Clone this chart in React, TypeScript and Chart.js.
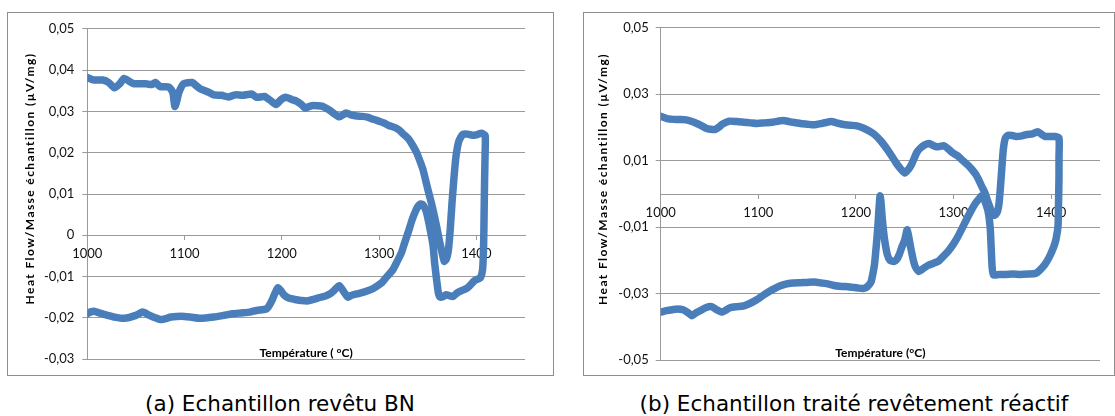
import React, { useEffect, useRef } from "react";
import { Chart, registerables } from "chart.js";

Chart.register(...registerables);

// ---------- DATA ----------
// (a) Echantillon revêtu BN — heating branch (top), then cooling branch (bottom)
const tempA_heat = [1000, 1007, 1016, 1022, 1028, 1033, 1038, 1043, 1048, 1060, 1066, 1070, 1075, 1084, 1088, 1090, 1092, 1094, 1099, 1108, 1112, 1116, 1121, 1126, 1130, 1138, 1145, 1152, 1160, 1169, 1174, 1182, 1188, 1194, 1199, 1204, 1210, 1215, 1220, 1224, 1229, 1233, 1240, 1244, 1249, 1253, 1259, 1266, 1272, 1277, 1283, 1288, 1294, 1299, 1305, 1310, 1317, 1321, 1325, 1330, 1334, 1338, 1341, 1345, 1348.5, 1351, 1354, 1357, 1359.5, 1362, 1365, 1367, 1369, 1371, 1373, 1375, 1377, 1379, 1382, 1386, 1391, 1396, 1401, 1405, 1409];
const flowA_heat = [0.0382, 0.0376, 0.0376, 0.037, 0.0357, 0.0366, 0.038, 0.0373, 0.0367, 0.0367, 0.0365, 0.037, 0.036, 0.0359, 0.0345, 0.0312, 0.0325, 0.0345, 0.0367, 0.037, 0.0362, 0.0355, 0.035, 0.0345, 0.034, 0.0339, 0.0335, 0.034, 0.0339, 0.0342, 0.0334, 0.0336, 0.0327, 0.0317, 0.0328, 0.0334, 0.0329, 0.0325, 0.0317, 0.0308, 0.0313, 0.0314, 0.0313, 0.031, 0.0303, 0.0296, 0.0287, 0.0296, 0.0291, 0.0289, 0.0288, 0.0286, 0.0281, 0.0277, 0.0272, 0.0266, 0.026, 0.0254, 0.0245, 0.0234, 0.022, 0.0203, 0.0186, 0.016, 0.0127, 0.0103, 0.0076, 0.0045, 0.0017, -0.0013, -0.0045, -0.0063, -0.0058, -0.004, 0.001, 0.008, 0.014, 0.019, 0.0228, 0.0244, 0.0245, 0.0242, 0.0244, 0.0247, 0.0242];
const tempA_cool = [1409, 1408.5, 1408, 1407.5, 1406.5, 1404, 1398, 1391, 1384, 1380, 1376, 1372, 1369, 1366, 1363, 1361, 1359, 1357, 1355.5, 1352, 1348.5, 1345, 1343, 1340, 1337.5, 1334, 1330, 1326, 1323, 1318, 1314, 1308, 1303, 1297, 1292, 1285, 1277, 1271, 1268, 1264, 1259, 1254, 1249.5, 1245, 1240, 1233, 1226, 1220, 1215, 1207, 1202, 1199, 1196, 1193, 1190, 1186, 1183.5, 1174, 1167, 1158, 1149, 1140, 1130, 1116, 1106, 1097, 1086, 1080, 1075, 1069, 1064, 1057, 1050, 1038, 1028, 1020, 1012, 1007, 1003, 1000];
const flowA_cool = [0.02, 0.014, 0.006, -0.002, -0.008, -0.0103, -0.011, -0.0127, -0.0135, -0.014, -0.0148, -0.0146, -0.0144, -0.0148, -0.015, -0.014, -0.0105, -0.0065, -0.0025, 0.002, 0.0058, 0.0074, 0.0076, 0.007, 0.0059, 0.0038, 0.0008, -0.002, -0.0042, -0.0066, -0.0084, -0.01, -0.0114, -0.0124, -0.0131, -0.0137, -0.0142, -0.0146, -0.015, -0.0138, -0.0122, -0.0133, -0.0142, -0.0147, -0.015, -0.0155, -0.0159, -0.0158, -0.0156, -0.0152, -0.0144, -0.0134, -0.0127, -0.014, -0.0157, -0.0174, -0.0179, -0.0182, -0.0186, -0.0188, -0.019, -0.0194, -0.0198, -0.0201, -0.0198, -0.0196, -0.0198, -0.0202, -0.0204, -0.0199, -0.0194, -0.0186, -0.0194, -0.0201, -0.0198, -0.0193, -0.0188, -0.0184, -0.0186, -0.019];

// (b) Echantillon traité revêtement réactif
const tempB_heat = [1000, 1008, 1018, 1026, 1032, 1037, 1042, 1046.5, 1051, 1055.5, 1060, 1063, 1070, 1078, 1085, 1092, 1099, 1106, 1114, 1120, 1125, 1133, 1143, 1150, 1157, 1166, 1175, 1180, 1186, 1194, 1201, 1208, 1214, 1219, 1226, 1234, 1241, 1246, 1250, 1254, 1257, 1262.5, 1266, 1270, 1275, 1279, 1283, 1290, 1294, 1299, 1305, 1310, 1315, 1319, 1323, 1326, 1329, 1332, 1335, 1337, 1339, 1341, 1343, 1345, 1346.5, 1348, 1349.5, 1351, 1353, 1356, 1360, 1364, 1370, 1375, 1381, 1386, 1390, 1394, 1400, 1404, 1408];
const flowB_heat = [0.0234, 0.0226, 0.0224, 0.0223, 0.0218, 0.0212, 0.0205, 0.0198, 0.0195, 0.0194, 0.0202, 0.021, 0.0219, 0.0218, 0.0216, 0.0214, 0.0212, 0.0214, 0.0216, 0.0219, 0.0221, 0.0217, 0.0212, 0.021, 0.0208, 0.0213, 0.0218, 0.0214, 0.021, 0.0207, 0.0205, 0.0198, 0.0189, 0.0179, 0.0158, 0.0126, 0.0094, 0.0075, 0.0063, 0.0075, 0.0089, 0.0126, 0.0138, 0.0147, 0.0152, 0.0146, 0.0142, 0.0145, 0.0137, 0.0124, 0.0113, 0.0099, 0.0086, 0.0073, 0.0058, 0.0041, 0.0022, 0.0004, -0.0022, -0.0038, -0.0055, -0.0064, -0.0062, -0.0052, -0.003, 0.002, 0.008, 0.0135, 0.0168, 0.0177, 0.0176, 0.0173, 0.0175, 0.0179, 0.0181, 0.0187, 0.018, 0.0173, 0.0173, 0.0173, 0.0168];
const tempB_cool = [1408, 1408, 1407.5, 1407, 1405, 1402.5, 1398, 1393.5, 1388, 1384, 1376, 1368, 1361, 1353.5, 1346, 1341, 1339.5, 1338.5, 1337.5, 1335.5, 1332.5, 1329.5, 1326, 1322.6, 1318, 1313.5, 1309, 1304.5, 1300, 1295, 1290, 1284.5, 1279, 1273.6, 1269, 1264.5, 1261, 1259, 1256, 1252.5, 1250, 1247, 1244.5, 1241.5, 1239, 1235, 1232, 1229, 1227, 1225.5, 1224.7, 1223.5, 1222.5, 1221, 1219, 1217, 1215.4, 1212, 1208, 1202, 1197, 1192, 1186, 1179, 1172, 1165, 1157, 1150, 1143, 1135, 1128, 1122, 1117, 1112, 1106.4, 1101, 1095.5, 1090, 1084.6, 1077, 1071, 1066.5, 1063, 1058, 1052, 1046, 1041, 1036, 1032, 1028, 1023, 1017, 1012, 1006, 1001];
const flowB_cool = [0.011, 0.0052, -0.003, -0.0096, -0.0135, -0.016, -0.019, -0.0212, -0.023, -0.0239, -0.0241, -0.0242, -0.0241, -0.0242, -0.0242, -0.0244, -0.022, -0.016, -0.01, -0.0054, -0.0025, -0.0004, -0.0015, -0.0027, -0.005, -0.0075, -0.0102, -0.0128, -0.015, -0.017, -0.0186, -0.0202, -0.0209, -0.0215, -0.0224, -0.0233, -0.022, -0.0202, -0.016, -0.0108, -0.0138, -0.016, -0.0181, -0.0198, -0.0203, -0.02, -0.0181, -0.013, -0.0075, -0.002, -0.0006, -0.005, -0.0096, -0.015, -0.0212, -0.0245, -0.0265, -0.0278, -0.0284, -0.0283, -0.0281, -0.0279, -0.0278, -0.0276, -0.0271, -0.0268, -0.0265, -0.0266, -0.0267, -0.0268, -0.0271, -0.0277, -0.0284, -0.0292, -0.0302, -0.0313, -0.0323, -0.0331, -0.0337, -0.0339, -0.0342, -0.035, -0.0355, -0.0349, -0.0339, -0.0342, -0.035, -0.0358, -0.0366, -0.0357, -0.0348, -0.0346, -0.0348, -0.0351, -0.0355];

// Tick values
const xTicks = [1000, 1100, 1200, 1300, 1400];
const yTicksA = [-0.03, -0.02, -0.01, 0, 0.01, 0.02, 0.03, 0.04, 0.05];
const yTicksB = [-0.05, -0.03, -0.01, 0.01, 0.03, 0.05];

const xTitleA = "Température ( °C)";
const xTitleB = "Température (°C)";
const yTitle = "Heat Flow/Masse échantillon (µV/mg)";
const captionA = "(a) Echantillon revêtu BN";
const captionB = "(b) Echantillon traité revêtement réactif";

// ---------- STYLE ----------
const BLUE = "#4a7ebb";
const GRID = "#9a9a9a";
const FONT = "Lato, 'Liberation Sans', sans-serif";

const fmtY = (v: number) => {
  const r = Math.round(v * 100) / 100;
  return r === 0 ? "0" : r.toFixed(2).replace(".", ",");
};

type Cfg = {
  heatT: number[]; heatF: number[]; coolT: number[]; coolF: number[];
  yMin: number; yMax: number; yTicks: number[];
  xTitle: string;
  width: number; height: number;
  padTop: number; padRight: number; yWidth: number; xHeight: number;
  yPad: number;
  xTitleY: number; yTitleX: number; yTitleY: number;
};

function Panel({ cfg }: { cfg: Cfg }) {
  const ref = useRef<HTMLCanvasElement | null>(null);
  useEffect(() => {
    if (!ref.current) return;
    const pts = [
      ...cfg.heatT.map((t, i) => ({ x: t, y: cfg.heatF[i] })),
      ...cfg.coolT.map((t, i) => ({ x: t, y: cfg.coolF[i] })),
    ];
    const titles = {
      id: "titles",
      afterDraw(chart: any) {
        const ctx = chart.ctx;
        const ca = chart.chartArea;
        ctx.save();
        ctx.fillStyle = "#000";
        ctx.font = `bold 12px ${FONT}`;
        ctx.textAlign = "center";
        ctx.textBaseline = "middle";
        ctx.fillText(cfg.xTitle, (ca.left + ca.right) / 2, cfg.xTitleY);
        ctx.translate(cfg.yTitleX, cfg.yTitleY);
        ctx.rotate(-Math.PI / 2);
        try { (ctx as any).letterSpacing = "1.4px"; } catch (e) {}
        ctx.fillText(yTitle, 0, 0);
        ctx.restore();
      },
    };
    const chart = new Chart(ref.current, {
      type: "scatter",
      data: {
        datasets: [
          {
            data: pts,
            showLine: true,
            borderColor: BLUE,
            backgroundColor: BLUE,
            borderWidth: 7.5,
            pointRadius: 0,
            tension: 0.2,
            borderJoinStyle: "round",
            borderCapStyle: "round",
          } as any,
        ],
      },
      options: {
        animation: false,
        responsive: false,
        events: [],
        layout: { padding: { top: cfg.padTop, right: cfg.padRight, left: 0, bottom: 0 } },
        plugins: { legend: { display: false }, tooltip: { enabled: false }, title: { display: false } },
        scales: {
          x: {
            type: "linear",
            position: { y: 0 } as any,
            min: 1000,
            max: 1450,
            afterBuildTicks: (s: any) => { s.ticks = xTicks.map((v) => ({ value: v })); },
            afterFit: (s: any) => { s.height = cfg.xHeight; },
            grid: { display: true, drawOnChartArea: false, drawTicks: true, tickLength: 4, color: GRID },
            border: { display: true, color: GRID, width: 1 },
            ticks: { padding: 7, color: "#111", font: { family: FONT, size: 13 }, maxRotation: 0, autoSkip: false, callback: (v: any) => String(v) },
          },
          y: {
            type: "linear",
            position: "left",
            min: cfg.yMin,
            max: cfg.yMax,
            afterBuildTicks: (s: any) => { s.ticks = cfg.yTicks.map((v) => ({ value: v })); },
            afterFit: (s: any) => { s.width = cfg.yWidth; },
            grid: { color: GRID, tickLength: 5, drawTicks: true },
            border: { display: true, color: GRID, width: 1 },
            ticks: { padding: cfg.yPad, color: "#111", font: { family: FONT, size: 13 }, autoSkip: false, callback: (v: any) => fmtY(Number(v)) },
          },
        },
      } as any,
      plugins: [titles],
    });
    return () => chart.destroy();
  }, [cfg]);
  return <canvas ref={ref} width={cfg.width} height={cfg.height} style={{ width: cfg.width, height: cfg.height, display: "block" }} />;
}

const cfgA: Cfg = {
  heatT: tempA_heat, heatF: flowA_heat, coolT: tempA_cool, coolF: flowA_cool,
  yMin: -0.03, yMax: 0.05, yTicks: yTicksA, xTitle: xTitleA,
  width: 545, height: 362, padTop: 13, padRight: 28, yWidth: 79.3, xHeight: 33, yPad: 8,
  xTitleY: 340, yTitleX: 22.5, yTitleY: 165.5,
};
const cfgB: Cfg = {
  heatT: tempB_heat, heatF: flowB_heat, coolT: tempB_cool, coolF: flowB_cool,
  yMin: -0.05, yMax: 0.05, yTicks: yTicksB, xTitle: xTitleB,
  width: 530, height: 362, padTop: 12.3, padRight: 14, yWidth: 76.7, xHeight: 34.3, yPad: 7,
  xTitleY: 339.7, yTitleX: 19, yTitleY: 166,
};

export default function App() {
  const frame: React.CSSProperties = { position: "absolute", top: 12, height: 364, border: "1px solid #8e8e8e", boxSizing: "border-box", background: "#fff" };
  const cap: React.CSSProperties = { position: "absolute", top: 391, height: 26, lineHeight: "26px", textAlign: "center", fontFamily: "'DejaVu Sans', sans-serif", fontSize: 21.5, color: "#000", whiteSpace: "nowrap" };
  return (
    <div style={{ position: "absolute", left: 0, top: 0, width: 1115, height: 416, background: "#fff", overflow: "hidden" }}>
      <div style={{ ...frame, left: 7, width: 547 }}>
        <Panel cfg={cfgA} />
      </div>
      <div style={{ ...frame, left: 583, width: 532 }}>
        <Panel cfg={cfgB} />
      </div>
      <div style={{ ...cap, left: 7, width: 546 }}>{captionA}</div>
      <div style={{ ...cap, left: 600, width: 508 }}>{captionB}</div>
    </div>
  );
}
